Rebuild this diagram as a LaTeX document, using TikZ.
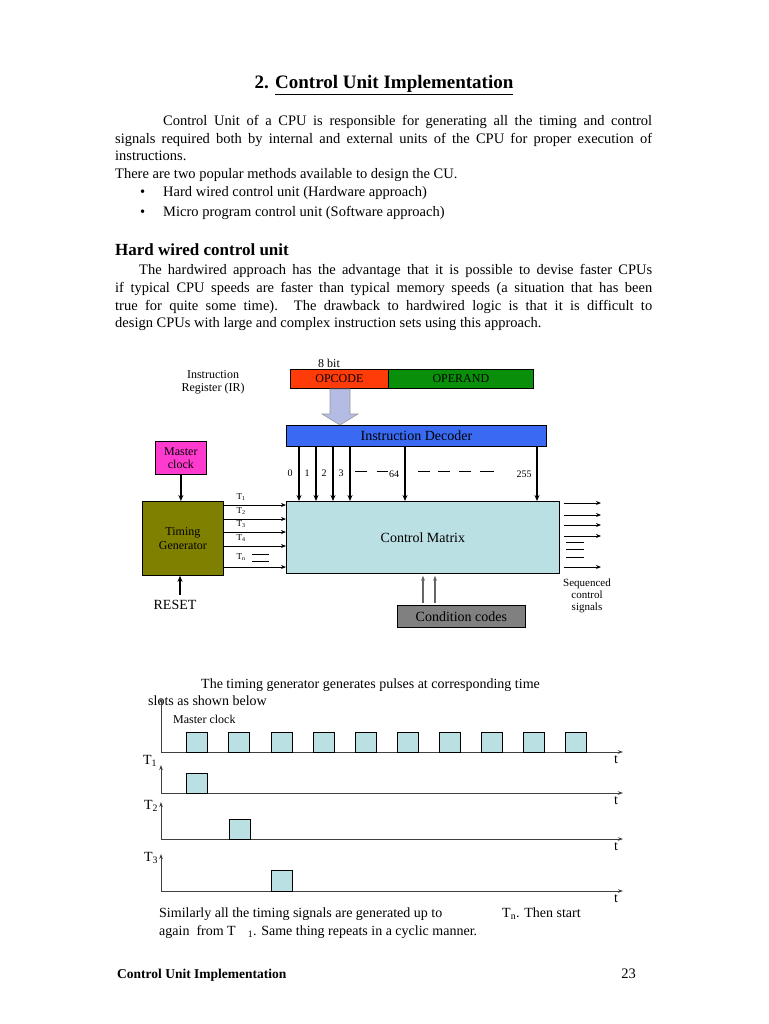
\documentclass[tikz,border=0pt]{standalone}
\usepackage{fontspec}
\setmainfont{Liberation Serif}
\usetikzlibrary{arrows.meta}
\definecolor{opc}{HTML}{FF3B0A}
\definecolor{opr}{HTML}{0A8F0A}
\definecolor{decc}{HTML}{3A6AF2}
\definecolor{cmc}{HTML}{BBE0E3}
\definecolor{ccc}{HTML}{808080}
\definecolor{mcc}{HTML}{FF3ACF}
\definecolor{tgc}{HTML}{808000}
\definecolor{hac}{HTML}{B4BCE4}
\newcommand\jline[2]{\makebox[#1][s]{#2}}
\tikzset{
  body/.style={anchor=base west, inner sep=0pt, font=\fontsize{14.5}{18}\selectfont},
  dg/.style={inner sep=0pt, font=\fontsize{12}{13}\selectfont},
  sm/.style={inner sep=0pt, font=\fontsize{9}{10}\selectfont},
  tim/.style={inner sep=0pt, font=\fontsize{14}{16}\selectfont},
  boxn/.style={draw=black, line width=0.8pt, anchor=north west, inner sep=0pt},
  arr/.style={-{Stealth[length=6pt,width=5pt]}, line width=1.4pt},
  tarr/.style={-{Stealth[length=5pt,width=4pt]}, line width=1pt},
  garr/.style={-{Stealth[length=5pt,width=4pt]}, line width=1.1pt, draw=black!60},
  axis/.style={-{Stealth[length=5pt,width=3.5pt]}, line width=1pt, draw=black!75},
  pulse/.style={draw=black, fill=cmc, line width=0.9pt},
}
\begin{document}
\begin{tikzpicture}[x=1pt,y=-1pt]
\useasboundingbox (0,0) rectangle (768,1024);
\fill[white] (0,0) rectangle (768,1024);

% ---------- text ----------
\node[anchor=base, inner sep=0pt, font=\bfseries\fontsize{19}{22}\selectfont] (title) at (384,89) {2. \underline{Control Unit Implementation}};
\node[body] (p1) at (163,126) {\jline{489pt}{Control Unit of a CPU is responsible for generating all the timing and control}};
\node[body] (p2) at (115,144) {\jline{537pt}{signals required both by internal and external units of the CPU for proper execution of}};
\node[body] (p3) at (115,161) {instructions.};
\node[body] (p4) at (115,179) {There are two popular methods available to design the CU.};
\node[body] (b1) at (140,197) {\textbullet};
\node[body] (l1) at (163,197) {Hard wired control unit (Hardware approach)};
\node[body] (b2) at (140,217) {\textbullet};
\node[body] (l2) at (163,217) {Micro program control unit (Software approach)};
\node[body, font=\bfseries\fontsize{17}{20}\selectfont] (head) at (115,255) {Hard wired control unit};
\node[body] (h1) at (139,274) {\jline{513pt}{The hardwired approach has the advantage that it is possible to devise faster CPUs}};
\node[body] (h2) at (115,292) {\jline{537pt}{if typical CPU speeds are faster than typical memory speeds (a situation that has been}};
\node[body] (h3) at (115,310) {\jline{537pt}{true for quite some time). The drawback to hardwired logic is that it is difficult to}};
\node[body] (h4) at (115,327) {design CPUs with large and complex instruction sets using this approach.};

% ---------- block diagram ----------
\node[dg] (bits) at (329,363) {8 bit};
\node[dg, align=center] (irl) at (213,382) {Instruction\\Register (IR)};
\node[boxn, fill=opc, minimum width=98pt, minimum height=19pt] (opcode) at (290,369) {};
\node[dg] at (opcode.center) {OPCODE};
\node[boxn, fill=opr, minimum width=145pt, minimum height=19pt] (operand) at (388,369) {};
\node[dg] at (operand.center) {OPERAND};

\node[boxn, fill=decc, minimum width=260pt, minimum height=21pt] (dec) at (286,425) {};
\node[dg, font=\fontsize{14}{15}\selectfont] (dect) at (dec.center) {Instruction Decoder};

% hollow arrow from opcode to decoder
\coordinate (ha) at (340,389);
\draw[draw=gray!80, fill=hac, line width=0.6pt]
  ([xshift=-10pt]ha) -- ([xshift=10pt]ha) -- ([xshift=10pt,yshift=-25pt]ha) -- ([xshift=18pt,yshift=-25pt]ha)
  -- (ha |- dec.north) -- ([xshift=-18pt,yshift=-25pt]ha) -- ([xshift=-10pt,yshift=-25pt]ha) -- cycle;

\node[boxn, fill=cmc, minimum width=273pt, minimum height=72pt] (cm) at (286,501) {};
\node[dg, font=\fontsize{14}{15}\selectfont] (cmt) at (cm.center) {Control Matrix};

\node[boxn, fill=ccc, minimum width=128pt, minimum height=22pt] (cc) at (397,605) {};
\node[dg, font=\fontsize{14}{15}\selectfont] (cct) at (cc.center) {Condition codes};

\node[boxn, fill=mcc, minimum width=51pt, minimum height=33pt] (mc) at (155,441) {};
\node[dg, align=center, font=\fontsize{12}{13}\selectfont] (mct) at (mc.center) {Master\\clock};

\node[boxn, fill=tgc, minimum width=81pt, minimum height=74pt] (tg) at (142,501) {};
\node[dg, align=center, font=\fontsize{12}{14}\selectfont] (tgt) at (tg.center) {Timing\\Generator};

\node[inner sep=0pt, font=\fontsize{14}{16}\selectfont] (reset) at (175,605) {RESET};
\draw[arr] (mc.south) -- (mc.south |- tg.north);
\coordinate (rs) at (180,595);
\draw[arr] (rs) -- (rs |- tg.south);

% decoder outputs
\foreach \x/\n in {299/d0,316/d1,333/d2,350/d3,405/d64,537/d255}{
  \coordinate (\n) at (\x,0);
  \draw[arr] (dec.south -| \n) -- (cm.north -| \n);
}
\node[sm, font=\fontsize{10}{11}\selectfont] (n0) at (290,473) {0};
\node[sm, font=\fontsize{10}{11}\selectfont] (n1) at (307,473) {1};
\node[sm, font=\fontsize{10}{11}\selectfont] (n2) at (324,473) {2};
\node[sm, font=\fontsize{10}{11}\selectfont] (n3) at (341,473) {3};
\node[sm, font=\fontsize{10}{11}\selectfont] (n64) at (394,474) {64};
\node[sm, font=\fontsize{10}{11}\selectfont] (n255) at (524,474) {255};
\foreach \a/\b in {355/367,377/388,418/430,438/450,459/471,480/494}
  \draw[line width=0.8pt] (\a,471) -- (\b,471);

% timing generator outputs
\foreach \y/\n in {505/t1,519/t2,532/t3,546/t4,567/tn}{
  \coordinate (\n) at (0,\y);
  \draw[tarr] (tg.east |- \n) -- (cm.west |- \n);
}
\node[sm] (lt1) at (241,497) {T\textsubscript{1}};
\node[sm] (lt2) at (241,511) {T\textsubscript{2}};
\node[sm] (lt3) at (241,524) {T\textsubscript{3}};
\node[sm] (lt4) at (241,538) {T\textsubscript{4}};
\node[sm] (ltn) at (241,557) {T\textsubscript{n}};
\draw[line width=0.8pt] (252,554) -- (269,554) (252,561) -- (269,561);

% control outputs
\foreach \y/\n in {503/o1,515/o2,525/o3,536/o4,567/o5}{
  \coordinate (\n) at (601,\y);
  \draw[tarr] ([xshift=4pt]cm.east |- \n) -- (\n);
}
\draw[line width=0.8pt] (566,542) -- (584,542) (566,549) -- (584,549) (566,557) -- (584,557);
\node[dg, align=center, font=\fontsize{11}{12}\selectfont] (seq) at (587,596) {Sequenced\\control\\signals};

% condition code arrows
\foreach \x/\n in {423/c1,435/c2}{
  \coordinate (\n) at (\x,0);
  \draw[garr] ([yshift=2pt]cc.north -| \n) -- ([yshift=-2pt]cm.south -| \n);
}

% ---------- timing diagram ----------
\node[tim, anchor=base west] (tt1) at (201,688) {The timing generator generates pulses at corresponding time};
\node[tim, anchor=base west] (tt2) at (148,705) {slots as shown below};
\node[dg, anchor=base west] (mcl) at (173,723) {Master clock};

% master clock axes
\coordinate (o0) at (161,752);
\draw[axis] (o0) -- (161,698);
\draw[axis] (o0) -- (623,752);
\node[tim] (tc0) at (616,760) {t};
\foreach \x in {186,228,271,313,355,397,439,481,523,565}
  \draw[pulse] (\x,752) rectangle ++(21,-20);

% T1
\coordinate (o1) at (161,793);
\draw[axis] (o1) -- (161,765);
\draw[axis] (o1) -- (623,793);
\node[tim] (tl1) at (150,761) {T\textsubscript{1}};
\node[tim] (tc1) at (616,801) {t};
\draw[pulse] (186,793) rectangle ++(21,-20);

% T2
\coordinate (o2) at (161,839);
\draw[axis] (o2) -- (161,802);
\draw[axis] (o2) -- (623,839);
\node[tim] (tl2) at (151,806) {T\textsubscript{2}};
\node[tim] (tc2) at (616,847) {t};
\draw[pulse] (229,839) rectangle ++(21,-20);

% T3
\coordinate (o3) at (161,891);
\draw[axis] (o3) -- (161,854);
\draw[axis] (o3) -- (623,891);
\node[tim] (tl3) at (151,858) {T\textsubscript{3}};
\node[tim] (tc3) at (616,899) {t};
\draw[pulse] (271,891) rectangle ++(21,-21);

\node[tim, anchor=base west] (s1) at (159,917) {Similarly all the timing signals are generated up to};
\node[tim, anchor=base west] (s2) at (502,917) {T\textsubscript{n}. Then start};
\node[tim, anchor=base west] (s3) at (159,935) {again\ \ from T\hspace{12pt}\textsubscript{1}. Same thing repeats in a cyclic manner.};

% footer
\node[anchor=base west, inner sep=0pt, font=\bfseries\fontsize{13.5}{16}\selectfont] (foot) at (117,978) {Control Unit Implementation};
\node[anchor=base east, inner sep=0pt, font=\fontsize{14.5}{16}\selectfont] (page) at (636,978) {23};
\end{tikzpicture}
\end{document}
